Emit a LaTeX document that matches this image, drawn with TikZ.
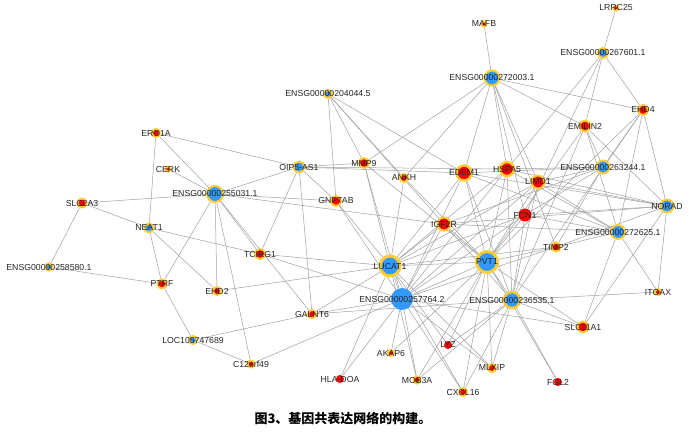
\documentclass[tikz,border=0pt]{standalone}
\usepackage{fontspec}
\newfontfamily\genefont{Liberation Sans}
\newfontfamily\cjkfont{Noto Sans CJK SC}
\usetikzlibrary{backgrounds}
\definecolor{nblue}{RGB}{51,153,255}
\definecolor{nred}{RGB}{255,0,0}
\definecolor{ngold}{RGB}{255,204,51}
\definecolor{lnkgray}{RGB}{160,160,160}

\begin{document}
\begin{tikzpicture}[x=1pt,y=-1pt,
		lnc/.style={circle,inner sep=0pt,minimum size=#1,fill=nblue,draw=ngold,line width=2pt},
		mrn/.style={circle,inner sep=0pt,minimum size=#1,fill=nred,draw=ngold,line width=2pt},
		bare/.style={circle,inner sep=0pt,minimum size=#1,fill=nred},
		lab/.style={font=\genefont\fontsize{8.7}{10}\selectfont,text=black!85,inner sep=0pt},
		lnk/.style={draw=lnkgray,line width=0.5pt}]
			\useasboundingbox (0,0) rectangle (689,432);

			\node[lnc=10] (L267) at (603,53) {};
			\node[lnc=15] (L272) at (492,78) {};
			\node[lnc=8] (L204) at (328,94) {};
			\node[lnc=16] (L255) at (215,194) {};
			\node[lnc=9] (NEAT) at (149,228) {};
			\node[lnc=7] (L258) at (49,267) {};
			\node[lnc=11] (OIP) at (299,167) {};
			\node[lnc=8] (LOC) at (193,340) {};
			\node[lnc=20,line width=3pt] (LUC) at (390,266) {};
			\node[lnc=21,line width=3pt] (PVT) at (487,262) {};
			\node[bare=22,fill=nblue] (L257) at (402,299) {};
			\node[lnc=16,line width=2.5pt] (L236) at (512,300) {};
			\node[lnc=13] (L263) at (603,167) {};
			\node[lnc=14] (L625) at (618,232) {};
			\node[lnc=13] (NOR) at (667,206) {};

			\node[mrn=5] (MAFB) at (484,24) {};
			\node[mrn=5] (LRRC) at (616,8) {};
			\node[mrn=10] (EHD4) at (643,110) {};
			\node[mrn=11] (EMIL) at (585,126) {};
			\node[mrn=8] (ERO) at (156,133) {};
			\node[mrn=5] (CERK) at (168,169) {};
			\node[mrn=9] (SLC2) at (82,203) {};
			\node[mrn=10] (MMP) at (364,163) {};
			\node[mrn=8] (ANKH) at (404,178) {};
			\node[mrn=10] (GNP) at (336,201) {};
			\node[mrn=15,line width=2.5pt] (EDEM) at (464,173) {};
			\node[mrn=14,line width=2.5pt] (HSPA) at (507,169) {};
			\node[mrn=13] (LIMD) at (538,182) {};
			\node[bare=13] (FCN) at (525,215) {};
			\node[mrn=13] (IGF) at (444,224) {};
			\node[mrn=10] (TCI) at (260,254) {};
			\node[mrn=9] (TIMP) at (556,247) {};
			\node[mrn=8] (EHD2) at (217,291) {};
			\node[mrn=9] (PTRF) at (162,284) {};
			\node[mrn=8] (GAL) at (312,314) {};
			\node[mrn=7] (C12) at (251,364) {};
			\node[bare=8] (HLA) at (340,379) {};
			\node[mrn=6] (AKAP) at (391,353) {};
			\node[bare=8] (LYZ) at (448,345) {};
			\node[mrn=7] (MOB) at (417,380) {};
			\node[mrn=8] (CXCL) at (463,392) {};
			\node[mrn=8] (MIX) at (492,368) {};
			\node[bare=8] (FGL) at (558,382) {};
			\node[mrn=11] (SLC11) at (583,327) {};
			\node[mrn=6] (ITG) at (658,292) {};

			\begin{scope}[on background layer]
			\foreach \g in {LRRC,EHD4,EMIL,HSPA,FCN} \draw[lnk] (L267) -- (\g);
			\foreach \g in {MAFB,EHD4,EMIL,MMP,ANKH,EDEM,HSPA,LIMD,FCN,TIMP} \draw[lnk] (L272) -- (\g);
			\foreach \g in {GNP,MMP,ANKH,IGF,EDEM} \draw[lnk] (L204) -- (\g);
			\foreach \g in {ERO,CERK,SLC2,PTRF,EHD2,C12,TCI,GAL,GNP,IGF,OIP} \draw[lnk] (L255) -- (\g);
			\foreach \g in {ERO,SLC2,PTRF,EHD2,TCI} \draw[lnk] (NEAT) -- (\g);
			\foreach \g in {SLC2,PTRF} \draw[lnk] (L258) -- (\g);
			\foreach \g in {ERO,MMP,EDEM,HSPA,GNP,TCI,GAL} \draw[lnk] (OIP) -- (\g);
			\foreach \g in {PTRF,GAL,C12} \draw[lnk] (LOC) -- (\g);
			\foreach \g in {EHD2,TCI,HLA,GNP,MMP,ANKH,EDEM,HSPA,LIMD,IGF,FCN,TIMP,LYZ,MOB,CXCL,MIX,GAL,PVT,L257} \draw[lnk] (LUC) -- (\g);
			\foreach \g in {ANKH,MMP,EDEM,HSPA,LIMD,IGF,FCN,TIMP,EHD4,EMIL,LYZ,MOB,CXCL,MIX,FGL,AKAP,SLC11,L257,L236} \draw[lnk] (PVT) -- (\g);
			\foreach \g in {TCI,GAL,C12,HLA,AKAP,MOB,CXCL,MIX,SLC11,IGF,FCN,EDEM,HSPA,LIMD,MMP,GNP,TIMP} \draw[lnk] (L257) -- (\g);
			\foreach \g in {GAL,SLC11,FGL,ITG,MIX,CXCL,MOB,LYZ,IGF,EDEM,HSPA,LIMD,FCN,EHD4,EMIL} \draw[lnk] (L236) -- (\g);
			\foreach \g in {EDEM,HSPA,LIMD,EMIL,EHD4,FCN,TIMP,IGF} \draw[lnk] (L263) -- (\g);
			\foreach \g in {EMIL,EHD4,LIMD,HSPA,EDEM,FCN,TIMP,IGF,ITG,SLC11} \draw[lnk] (L625) -- (\g);
			\foreach \g in {EHD4,EMIL,LIMD,HSPA,EDEM,FCN,IGF,ITG,SLC11,TIMP} \draw[lnk] (NOR) -- (\g);
			\end{scope}

			\foreach \n/\t in {L267/ENSG00000267601.1,L272/ENSG00000272003.1,L204/ENSG00000204044.5,
				L255/ENSG00000255031.1,NEAT/NEAT1,L258/ENSG00000258580.1,OIP/OIP5-AS1,LOC/LOC105747689,
				LUC/LUCAT1,PVT/PVT1,L257/ENSG00000257764.2,L236/ENSG00000236535.1,L263/ENSG00000263244.1,
				L625/ENSG00000272625.1,NOR/NORAD,MAFB/MAFB,LRRC/LRRC25,EHD4/EHD4,EMIL/EMILIN2,ERO/ERO1A,
				CERK/CERK,SLC2/SLC2A3,MMP/MMP9,ANKH/ANKH,GNP/GNPTAB,EDEM/EDEM1,HSPA/HSPA5,LIMD/LIMD1,
				FCN/FCN1,IGF/IGF2R,TCI/TCIRG1,TIMP/TIMP2,EHD2/EHD2,PTRF/PTRF,GAL/GALNT6,C12/C12orf49,
				HLA/HLA-DOA,AKAP/AKAP6,LYZ/LYZ,MOB/MOB3A,CXCL/CXCL16,MIX/MLXIP,FGL/FGL2,SLC11/SLC11A1,ITG/ITGAX}
				\node[lab] (\n-t) at (\n) {\t};

			\node[font=\cjkfont\bfseries\fontsize{13}{15}\selectfont] (cap) at (343,418) {图3、基因共表达网络的构建。};
		\end{tikzpicture}
\end{document}
